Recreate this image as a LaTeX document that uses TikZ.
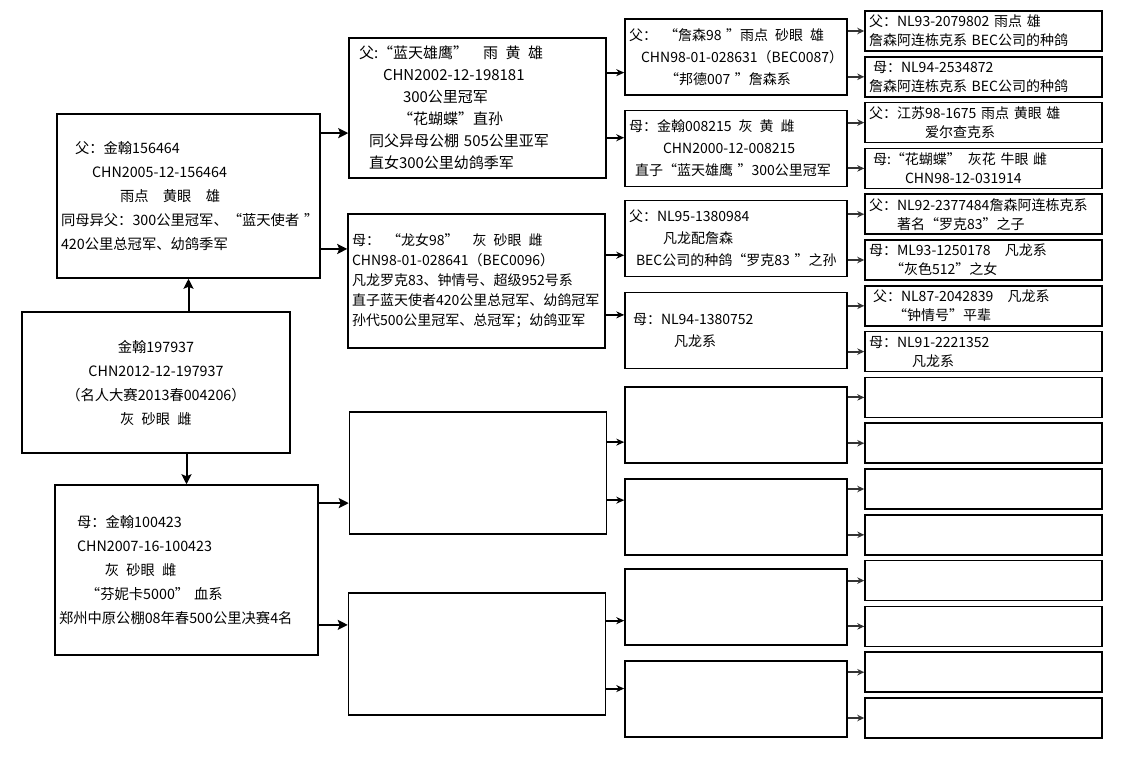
\documentclass[tikz,border=0pt]{standalone}
\usepackage{fontspec}
\setmainfont{Noto Sans CJK SC}
\usetikzlibrary{arrows.meta,calc}
\tikzset{
  box/.style={draw, line width=1.5pt, inner xsep=4pt, inner ysep=2pt, align=left},
  gen1/.style={box, minimum width=263pt, text width=255pt, font=\fontsize{14.3}{24}\selectfont},
  gen2/.style={box, minimum width=257pt, text width=249pt, font=\fontsize{15}{22}\selectfont},
  gen3/.style={box, minimum width=222pt, minimum height=76pt, text width=214pt, font=\fontsize{14}{22}\selectfont},
  gen4/.style={box, minimum width=237pt, minimum height=40pt, text width=229pt, font=\fontsize{14}{19}\selectfont},
  bigarr/.style={line width=2pt, -{Stealth[length=10pt,width=10pt,inset=2pt]}},
  midarr/.style={line width=2pt, -{Stealth[length=8pt,width=7pt]}},
  smallarr/.style={line width=2pt, draw=black!80, -{Stealth[length=7pt,width=6.5pt]}}
}
\begin{document}
\begin{tikzpicture}[x=1pt,y=-1pt]
\useasboundingbox (0,0) rectangle (1128,764);
% first and second generation
\node[gen1, minimum width=268pt, text width=260pt, minimum height=141pt, align=center] (self) at (156,382.5) {金翰197937\\CHN2012-12-197937\\（名人大赛2013春004206）\\灰\enspace 砂眼\enspace 雌};
\node[gen1, minimum height=164pt] (sire) at (188.5,196) {\hspace*{14pt}父：金翰156464\\\hspace*{31pt}CHN2005-12-156464\\\hspace*{59pt}雨点\quad 黄眼\quad 雄\\\mbox{同母异父：300公里冠军、“蓝天使者 ”}\\420公里总冠军、幼鸽季军};
\node[gen1, minimum height=170pt] (dam) at (186.5,570) {\hspace*{18pt}母：金翰100423\\\hspace*{18pt}CHN2007-16-100423\\\hspace*{46pt}灰\enspace 砂眼\enspace 雌\\\hspace*{27pt}“芬妮卡5000” 血系\\\mbox{郑州中原公棚08年春500公里决赛4名}};
\draw[bigarr] (self.north -| sire.south) -- (sire.south);
\draw[bigarr] (self.south -| dam.north) -- (dam.north);
% grandparents
\node[gen2, minimum height=140pt] (ss) at (477.5,108) {\hspace*{6pt}父:“蓝天雄鹰”\quad 雨\enspace 黄\enspace 雄\\\hspace*{30pt}CHN2002-12-198181\\\hspace*{50pt}300公里冠军\\\hspace*{45pt}“花蝴蝶”直孙\\\hspace*{16pt}同父异母公棚 505公里亚军\\\hspace*{16pt}直女300公里幼鸽季军};
\node[gen2, minimum height=134pt, font=\fontsize{14}{20}\selectfont] (sd) at (476.5,281) {母：\enspace“龙女98”\quad 灰\enspace 砂眼\enspace 雌\\CHN98-01-028641（BEC0096）\\凡龙罗克83、钟情号、超级952号系\\\mbox{直子蓝天使者420公里总冠军、幼鸽冠军}\\\mbox{孙代500公里冠军、总冠军；幼鸽亚军}};
\node[gen2, minimum height=122pt] (ds) at (478,473) {};
\node[gen2, minimum height=122pt] (dd) at (477,654) {};
% great-grandparents
\node[gen3] (sss) at (736,57) {\mbox{父：\enspace“詹森98 ”雨点\enspace 砂眼\enspace 雄}\\\hspace*{12pt}\mbox{CHN98-01-028631（BEC0087）}\\\hspace*{36pt}“邦德007 ”詹森系};
\node[gen3] (ssd) at (736,148.5) {母：金翰008215\enspace 灰\enspace 黄\enspace 雌\\\hspace*{34pt}CHN2000-12-008215\\\hspace*{6pt}\mbox{直子“蓝天雄鹰 ”300公里冠军}};
\node[gen3] (sds) at (736,238.5) {父：NL95-1380984\\\hspace*{34pt}凡龙配詹森\\\hspace*{7pt}\mbox{BEC公司的种鸽“罗克83 ”之孙}};
\node[gen3] (sdd) at (736,330.5) {\hspace*{4pt}母：NL94-1380752\\\hspace*{45pt}凡龙系\\};
\foreach \n/\y in {dss/425, dsd/517, dds/607, ddd/699}
  \node[gen3] (\n) at (736,\y) {};
% fourth generation
\node[gen4] (ssss) at (983.5,31) {父：NL93-2079802 雨点 雄\\\mbox{詹森阿连栋克系 BEC公司的种鸽}};
\node[gen4] (sssd) at (983.5,76.8) {\hspace*{4pt}母：NL94-2534872\\\mbox{詹森阿连栋克系 BEC公司的种鸽}};
\node[gen4] (ssds) at (983.5,122.6) {父：江苏98-1675 雨点 黄眼 雄\\\hspace*{56pt}爱尔查克系};
\node[gen4] (ssdd) at (983.5,168.4) {\hspace*{4pt}母:“花蝴蝶”\enspace 灰花 牛眼 雌\\\hspace*{36pt}CHN98-12-031914};
\node[gen4] (sdss) at (983.5,214.2) {\mbox{父：NL92-2377484詹森阿连栋克系}\\\hspace*{28pt}著名“罗克83”之子};
\node[gen4] (sdsd) at (983.5,260) {母：ML93-1250178\quad 凡龙系\\\hspace*{21pt}“灰色512”之女};
\node[gen4] (sdds) at (983.5,305.8) {\hspace*{4pt}父：NL87-2042839\quad 凡龙系\\\hspace*{24pt}“钟情号”平辈};
\node[gen4] (sddd) at (983.5,351.6) {母：NL91-2221352\\\hspace*{43pt}凡龙系};
\foreach \n [count=\i from 8] in {dsss,dssd,dsds,dsdd,ddss,ddsd,ddds,dddd}
  \node[gen4] (\n) at (983.5,{31+45.8*\i}) {};
% connectors
\foreach \p/\a/\b/\fa/\fb/\s in {sire/ss/sd/.12/.82/bigarr, dam/ds/dd/.11/.82/bigarr,
    ss/sss/ssd/.25/.71/midarr, sd/sds/sdd/.31/.75/midarr, ds/dss/dsd/.25/.72/midarr, dd/dds/ddd/.23/.78/midarr} {
  \coordinate (up) at ($(\p.north east)!\fa!(\p.south east)$);
  \coordinate (dn) at ($(\p.north east)!\fb!(\p.south east)$);
  \draw[\s] (up) -- (up -| \a.west);
  \draw[\s] (dn) -- (dn -| \b.west);
}
\foreach \p/\a/\b in {sss/ssss/sssd, ssd/ssds/ssdd, sds/sdss/sdsd, sdd/sdds/sddd,
    dss/dsss/dssd, dsd/dsds/dsdd, dds/ddss/ddsd, ddd/ddds/dddd} {
  \draw[smallarr] (\p.east |- \a.west) -- (\a.west);
  \draw[smallarr] (\p.east |- \b.west) -- (\b.west);
}
\end{tikzpicture}
\end{document}
